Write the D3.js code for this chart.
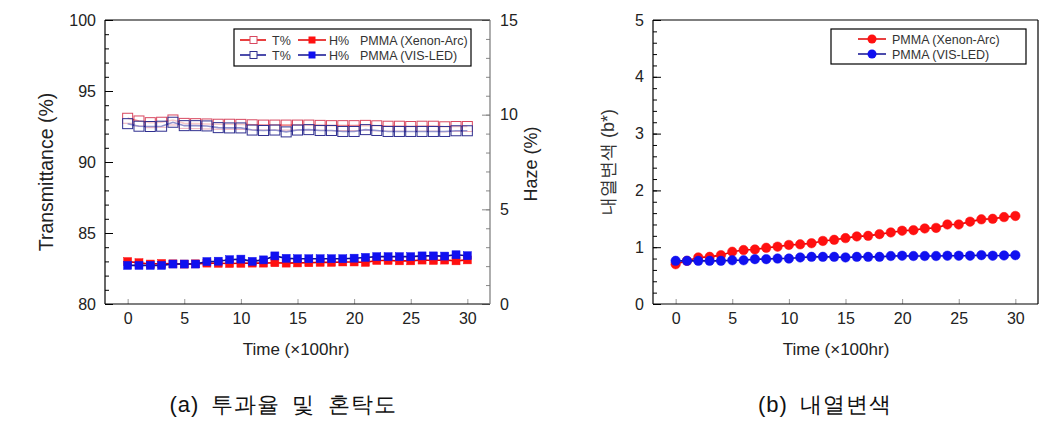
<!DOCTYPE html>
<html><head><meta charset="utf-8">
<script src="https://cdn.jsdelivr.net/npm/d3@7"></script>
<style>
body{margin:0;background:#fff;}
svg text{font-family:"Liberation Sans",Arial,sans-serif;}
</style></head>
<body><svg id="c" width="1064" height="436"></svg>
<script>
const time = d3.range(0, 31);
const tXenon = [93.08,92.89,92.77,92.80,92.96,92.72,92.70,92.68,92.66,92.66,92.65,92.62,92.60,92.60,92.60,92.60,92.60,92.58,92.56,92.56,92.56,92.58,92.55,92.52,92.52,92.50,92.52,92.52,92.48,92.50,92.50];
const tLed = [92.70,92.52,92.50,92.52,92.80,92.56,92.56,92.54,92.42,92.40,92.40,92.25,92.22,92.25,92.12,92.25,92.28,92.22,92.22,92.15,92.15,92.28,92.22,92.15,92.15,92.15,92.15,92.15,92.15,92.20,92.20];
const hXenon = [2.24,2.18,2.11,2.14,2.12,2.11,2.12,2.16,2.15,2.14,2.15,2.16,2.16,2.18,2.16,2.17,2.18,2.20,2.20,2.22,2.22,2.20,2.30,2.30,2.28,2.28,2.32,2.30,2.32,2.28,2.33];
const hLed = [2.04,2.04,2.04,2.04,2.11,2.11,2.11,2.24,2.26,2.34,2.37,2.25,2.33,2.54,2.41,2.39,2.39,2.39,2.39,2.39,2.42,2.46,2.50,2.50,2.50,2.50,2.54,2.54,2.53,2.60,2.55];
const bXenon = [0.70,0.76,0.82,0.83,0.86,0.92,0.95,0.96,0.99,1.01,1.04,1.05,1.07,1.11,1.13,1.16,1.19,1.20,1.23,1.26,1.29,1.30,1.33,1.34,1.40,1.40,1.45,1.49,1.50,1.53,1.55];
const bLed = [0.76,0.76,0.76,0.76,0.76,0.77,0.77,0.79,0.79,0.80,0.80,0.82,0.83,0.83,0.83,0.82,0.83,0.83,0.83,0.845,0.85,0.845,0.845,0.845,0.85,0.85,0.85,0.86,0.85,0.855,0.86];
const xTicks = [0,5,10,15,20,25,30];
const tTicks = [80,85,90,95,100];
const hTicks = [0,5,10,15];
const bTicks = [0,1,2,3,4,5];
const labels = {
  time: "Time (\u00d7100hr)", trans: "Transmittance (%)", haze: "Haze (%)", bstar: "\ub0b4\uc5f4\ubcc0\uc0c9  (b*)",
  capA: "(a) \ud22c\uacfc\uc728 \ubc0f \ud63c\ud0c1\ub3c4", capB: "(b) \ub0b4\uc5f4\ubcc0\uc0c9",
  legXenon: "PMMA (Xenon-Arc)", legLed: "PMMA (VIS-LED)"
};

const RED = "#ff1010", REDL = "#e00000", BLUE = "#1010f0", BLUEL = "#101090";
const TRED = "#d84860", TBLUE = "#303090";
const svg = d3.select("#c");

function frame(x0, x1, y0, y1) { return {x0, x1, y0, y1}; }
const fmtInt = d3.format("d");

// ---------- Left chart ----------
const A = frame(105, 490, 20, 304);
const xA = d3.scaleLinear().domain([-2, 32]).range([A.x0, A.x1]);
const yT = d3.scaleLinear().domain([80, 100]).range([A.y1, A.y0]);
const yH = d3.scaleLinear().domain([0, 15]).range([A.y1, A.y0]);

function styleAxis(g, col, fs) {
  g.selectAll("path.domain").remove();
  g.selectAll("line").attr("stroke", col || "#000");
  g.selectAll("text").attr("font-size", fs || 16).attr("fill", "#222").attr("font-family", "'Liberation Sans',Arial,sans-serif");
}

const gA = svg.append("g");
gA.append("g").attr("transform", `translate(${A.x0},0)`)
  .call(d3.axisLeft(yT).tickValues(d3.range(80, 101, 1)).tickSize(-4).tickFormat(""))
  .call(g => styleAxis(g));
gA.append("g").attr("transform", `translate(${A.x0},0)`)
  .call(d3.axisLeft(yT).tickValues(tTicks).tickSize(-8).tickPadding(9).tickFormat(fmtInt))
  .call(g => styleAxis(g));
gA.append("g").attr("transform", `translate(${A.x1},0)`)
  .call(d3.axisRight(yH).tickValues(d3.range(0, 16, 1)).tickSize(-4).tickFormat(""))
  .call(g => styleAxis(g, "#888"));
gA.append("g").attr("transform", `translate(${A.x1},0)`)
  .call(d3.axisRight(yH).tickValues(hTicks).tickSize(-8).tickPadding(10).tickFormat(fmtInt))
  .call(g => styleAxis(g, "#888"));
gA.append("g").attr("transform", `translate(0,${A.y1})`)
  .call(d3.axisBottom(xA).tickValues(xTicks).tickSize(-5).tickPadding(9).tickFormat(fmtInt))
  .call(g => styleAxis(g, "#999"));
gA.append("line").attr("x1", A.x0).attr("x2", A.x1).attr("y1", A.y0).attr("y2", A.y0).attr("stroke", "#000").attr("stroke-width", 1.2);
gA.append("line").attr("x1", A.x0).attr("x2", A.x1).attr("y1", A.y1).attr("y2", A.y1).attr("stroke", "#000").attr("stroke-width", 1.2);
gA.append("line").attr("x1", A.x0).attr("x2", A.x0).attr("y1", A.y0).attr("y2", A.y1).attr("stroke", "#000").attr("stroke-width", 1.2);
gA.append("line").attr("x1", A.x1).attr("x2", A.x1).attr("y1", A.y0).attr("y2", A.y1).attr("stroke", "#777").attr("stroke-width", 1.2);

function series(g, xs, ys, vals, lineCol, opts) {
  const line = d3.line().x((d, i) => xs(time[i])).y(d => ys(d));
  g.append("path").datum(vals).attr("d", line).attr("fill", "none").attr("stroke", lineCol).attr("stroke-width", 1.6);
  const s = opts.size;
  if (opts.shape === "square") {
    g.selectAll(null).data(vals).join("rect")
      .attr("x", (d, i) => xs(time[i]) - s / 2).attr("y", d => ys(d) - s / 2)
      .attr("width", s).attr("height", s)
      .attr("fill", opts.fill).attr("fill-opacity", opts.fillOpacity == null ? 1 : opts.fillOpacity)
      .attr("stroke", opts.stroke).attr("stroke-width", opts.sw || 1);
  } else {
    g.selectAll(null).data(vals).join("circle")
      .attr("cx", (d, i) => xs(time[i])).attr("cy", d => ys(d)).attr("r", s / 2)
      .attr("fill", opts.fill).attr("stroke", opts.stroke).attr("stroke-width", opts.sw || 1);
  }
}
series(gA, xA, yT, tXenon, REDL, {shape: "square", size: 10, fill: "#fff", fillOpacity: 0.55, stroke: TRED, sw: 1});
series(gA, xA, yT, tLed, BLUEL, {shape: "square", size: 10, fill: "#fff", fillOpacity: 0.55, stroke: TBLUE, sw: 1});
series(gA, xA, yH, hXenon, REDL, {shape: "square", size: 8, fill: RED, stroke: RED, sw: 0.5});
series(gA, xA, yH, hLed, BLUEL, {shape: "square", size: 8, fill: BLUE, stroke: BLUE, sw: 0.5});

gA.append("text").attr("transform", `translate(53,${(A.y0 + A.y1) / 2 + 10}) rotate(-90)`)
  .attr("text-anchor", "middle").attr("font-size", 19.5).attr("fill", "#222").text(labels.trans);
gA.append("text").attr("transform", `translate(537,${(A.y0 + A.y1) / 2 + 2}) rotate(-90)`)
  .attr("text-anchor", "middle").attr("font-size", 18).attr("fill", "#222").text(labels.haze);
gA.append("text").attr("x", 296).attr("y", 355).attr("text-anchor", "middle").attr("font-size", 17).attr("fill", "#222").text(labels.time);

const lgA = gA.append("g");
lgA.append("rect").attr("x", 234).attr("y", 29).attr("width", 237).attr("height", 37).attr("fill", "#fff").attr("stroke", "#000").attr("stroke-width", 1.2);
const legRowsA = [
  {y: 40, lc: REDL, tc: TRED, fc: RED, label: labels.legXenon},
  {y: 55, lc: BLUEL, tc: TBLUE, fc: BLUE, label: labels.legLed}
];
legRowsA.forEach(r => {
  lgA.append("line").attr("x1", 240).attr("x2", 266).attr("y1", r.y).attr("y2", r.y).attr("stroke", r.lc).attr("stroke-width", 1.5);
  lgA.append("rect").attr("x", 250).attr("y", r.y - 3.5).attr("width", 7).attr("height", 7).attr("fill", "#fff").attr("stroke", r.tc);
  lgA.append("text").attr("x", 272).attr("y", r.y + 4.5).attr("font-size", 12.5).attr("fill", "#333").text("T%");
  lgA.append("line").attr("x1", 298).attr("x2", 326).attr("y1", r.y).attr("y2", r.y).attr("stroke", r.lc).attr("stroke-width", 1.5);
  lgA.append("rect").attr("x", 308.5).attr("y", r.y - 3.5).attr("width", 7).attr("height", 7).attr("fill", r.fc);
  lgA.append("text").attr("x", 329).attr("y", r.y + 4.5).attr("font-size", 12.5).attr("fill", "#333").text("H%");
  lgA.append("text").attr("x", 360).attr("y", r.y + 4.5).attr("font-size", 12.5).attr("fill", "#333").text(r.label);
});

// ---------- Right chart ----------
const B = frame(653, 1038, 20, 304);
const xB = d3.scaleLinear().domain([-2, 32]).range([B.x0, B.x1]);
const yB = d3.scaleLinear().domain([0, 5]).range([B.y1, B.y0]);
const gB = svg.append("g");
gB.append("g").attr("transform", `translate(${B.x0},0)`)
  .call(d3.axisLeft(yB).tickValues(d3.range(0, 5.01, 0.2)).tickSize(-4).tickFormat(""))
  .call(g => styleAxis(g));
gB.append("g").attr("transform", `translate(${B.x0},0)`)
  .call(d3.axisLeft(yB).tickValues(bTicks).tickSize(-8).tickPadding(9).tickFormat(fmtInt))
  .call(g => styleAxis(g));
gB.append("g").attr("transform", `translate(0,${B.y1})`)
  .call(d3.axisBottom(xB).tickValues(xTicks).tickSize(-5).tickPadding(9).tickFormat(fmtInt))
  .call(g => styleAxis(g, "#999"));
[[B.x0, B.y0, B.x1, B.y0], [B.x0, B.y1, B.x1, B.y1], [B.x0, B.y0, B.x0, B.y1], [B.x1, B.y0, B.x1, B.y1]].forEach(l =>
  gB.append("line").attr("x1", l[0]).attr("y1", l[1]).attr("x2", l[2]).attr("y2", l[3]).attr("stroke", "#000").attr("stroke-width", 1.2));
series(gB, xB, yB, bXenon, REDL, {shape: "circle", size: 9.5, fill: RED, stroke: RED, sw: 0.5});
series(gB, xB, yB, bLed, BLUEL, {shape: "circle", size: 9.5, fill: BLUE, stroke: BLUE, sw: 0.5});

gB.append("text").attr("transform", `translate(614,${(B.y0 + B.y1) / 2}) rotate(-90)`)
  .attr("text-anchor", "middle").attr("font-size", 18).attr("fill", "#333")
  .attr("font-family", "'Noto Sans CJK KR','Liberation Sans',sans-serif").text(labels.bstar);
gB.append("text").attr("x", 836).attr("y", 355).attr("text-anchor", "middle").attr("font-size", 17).attr("fill", "#222").text(labels.time);

const lgB = gB.append("g");
lgB.append("rect").attr("x", 831).attr("y", 29).attr("width", 195).attr("height", 35).attr("fill", "#fff").attr("stroke", "#000").attr("stroke-width", 1.2);
[{y: 39, lc: REDL, fc: RED, label: labels.legXenon}, {y: 54, lc: BLUEL, fc: BLUE, label: labels.legLed}].forEach(r => {
  lgB.append("line").attr("x1", 858).attr("x2", 886).attr("y1", r.y).attr("y2", r.y).attr("stroke", r.lc).attr("stroke-width", 1.5);
  lgB.append("circle").attr("cx", 872).attr("cy", r.y).attr("r", 4.5).attr("fill", r.fc);
  lgB.append("text").attr("x", 892).attr("y", r.y + 4.5).attr("font-size", 12.5).attr("fill", "#333").text(r.label);
});

// captions
svg.append("text").attr("x", 283).attr("y", 412).attr("text-anchor", "middle").attr("font-size", 22)
  .attr("font-family", "'Noto Sans CJK KR',sans-serif").attr("fill", "#111").attr("letter-spacing", 1).attr("word-spacing", 5).text(labels.capA);
svg.append("text").attr("x", 825).attr("y", 412).attr("text-anchor", "middle").attr("font-size", 22)
  .attr("font-family", "'Noto Sans CJK KR',sans-serif").attr("fill", "#111").attr("letter-spacing", 1).attr("word-spacing", 5).text(labels.capB);
</script></body></html>
